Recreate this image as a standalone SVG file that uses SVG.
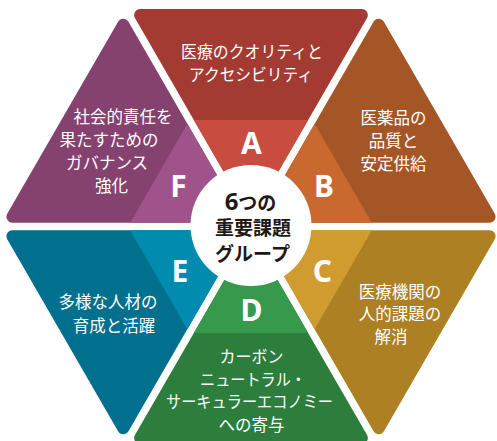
<svg xmlns="http://www.w3.org/2000/svg" width="497" height="441" viewBox="0 0 497 441">
<style>
.dk{stroke-width:12;stroke-linejoin:round}
.lbl{font-family:'Noto Sans','Noto Sans CJK JP',sans-serif;font-size:16.5px;fill:#fff;text-anchor:middle}
.let{font-family:'Noto Sans','Noto Sans CJK JP',sans-serif;font-size:30px;font-weight:700;fill:#fff;text-anchor:middle}
.ctr{font-family:'Noto Sans','Noto Sans CJK JP',sans-serif;font-weight:700;fill:#231815;text-anchor:middle}
#nodeA .dk{fill:#A33B32;stroke:#A33B32} #nodeA .lt{fill:#C84C3F}
#nodeB .dk{fill:#A45626;stroke:#A45626} #nodeB .lt{fill:#C96930}
#nodeC .dk{fill:#AC8023;stroke:#AC8023} #nodeC .lt{fill:#D09C2F}
#nodeD .dk{fill:#2D7D3D;stroke:#2D7D3D} #nodeD .lt{fill:#379A4A}
#nodeE .dk{fill:#00708E;stroke:#00708E} #nodeE .lt{fill:#008BAF}
#nodeF .dk{fill:#85426F;stroke:#85426F} #nodeF .lt{fill:#A0528B}
</style>
<rect width="497" height="441" fill="#fff"/>
<g id="nodeA">
<polygon class="dk" points="251,207 361.86,15 140.14,15"/>
<polygon class="lt" points="251,219 308.16,120 193.84,120"/>
<text class="lbl" x="252" y="57.5" textLength="142" lengthAdjust="spacingAndGlyphs">医療のクオリティと</text>
<text class="lbl" x="251" y="80.5" textLength="124" lengthAdjust="spacingAndGlyphs">アクセシビリティ</text>
<text class="let" x="251.5" y="153.7">A</text>
</g>
<g id="nodeB">
<polygon class="dk" points="267.89,216.75 489.59,216.76 378.73,24.74"/>
<polygon class="lt" points="257.5,222.75 371.81,222.75 314.65,123.75"/>
<text class="lbl" x="393.5" y="124">医薬品の</text>
<text class="lbl" x="393.5" y="147">品質と</text>
<text class="lbl" x="393.5" y="170">安定供給</text>
<text class="let" x="324" y="196.7">B</text>
</g>
<g id="nodeC">
<polygon class="dk" points="267.89,236.25 378.73,428.26 489.59,236.24"/>
<polygon class="lt" points="257.5,230.25 314.65,329.25 371.81,230.25"/>
<text class="lbl" x="400" y="297.5">医療機関の</text>
<text class="lbl" x="400" y="320">人的課題の</text>
<text class="lbl" x="391" y="343">解消</text>
<text class="let" x="322.5" y="281.7">C</text>
</g>
<g id="nodeD">
<polygon class="dk" points="251,246 361.86,438 140.14,438"/>
<polygon class="lt" points="251,234 308.16,333 193.84,333"/>
<text class="let" x="251.5" y="320.7">D</text>
<text class="lbl" x="251.5" y="362.5" textLength="64" lengthAdjust="spacingAndGlyphs">カーボン</text>
<text class="lbl" x="253" y="385.5" textLength="106" lengthAdjust="spacingAndGlyphs">ニュートラル・</text>
<text class="lbl" x="249.5" y="408" textLength="167" lengthAdjust="spacingAndGlyphs">サーキュラーエコノミー</text>
<text class="lbl" x="251.5" y="430.5">への寄与</text>
</g>
<g id="nodeE">
<polygon class="dk" points="234.11,236.25 123.27,428.26 12.41,236.24"/>
<polygon class="lt" points="244.5,230.25 187.35,329.25 130.19,230.25"/>
<text class="let" x="180" y="281.7">E</text>
<text class="lbl" x="108" y="307.7">多様な人材の</text>
<text class="lbl" x="114" y="331.5">育成と活躍</text>
</g>
<g id="nodeF">
<polygon class="dk" points="234.11,216.75 123.27,24.74 12.41,216.76"/>
<polygon class="lt" points="244.5,222.75 187.35,123.75 130.19,222.75"/>
<text class="lbl" x="123" y="122.5">社会的責任を</text>
<text class="lbl" x="109" y="145.5">果たすための</text>
<text class="lbl" x="107" y="168.5">ガバナンス</text>
<text class="lbl" x="111.5" y="191.5">強化</text>
<text class="let" x="178.5" y="196.7">F</text>
</g>
<g id="connectors"/>
<g id="center">
<circle cx="251" cy="225.5" r="60.5" fill="#fff"/>
<text class="ctr" x="250.5" y="210"><tspan font-size="24">6</tspan><tspan font-size="19">つの</tspan></text>
<text class="ctr" x="253" y="234.7" font-size="19">重要課題</text>
<text class="ctr" x="252.5" y="261" font-size="19">グループ</text>
</g>
</svg>
